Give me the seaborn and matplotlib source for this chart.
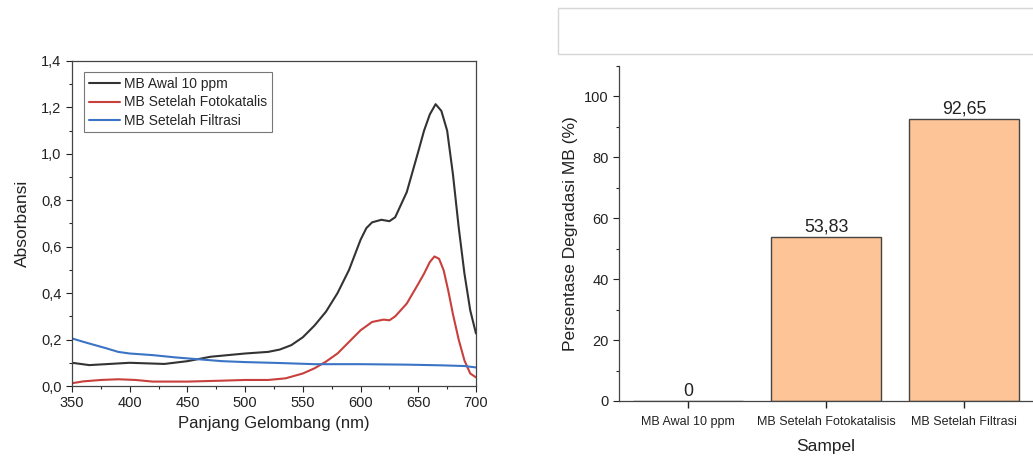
import matplotlib
matplotlib.use("Agg")
import matplotlib.pyplot as plt
import matplotlib.ticker as mticker
from matplotlib.patches import Rectangle
import numpy as np
import pandas as pd
import seaborn as sns

# UV-Vis spectra
wl_awal = [350, 365, 400, 430, 450, 470, 500, 520, 530, 540, 550, 560, 570, 580,
           590, 600, 605, 610, 618, 625, 630, 640, 650, 655, 660, 665, 670, 675,
           680, 685, 690, 695, 700]
abs_awal = [0.100, 0.090, 0.100, 0.095, 0.107, 0.126, 0.140, 0.147, 0.157, 0.176,
            0.210, 0.260, 0.320, 0.400, 0.500, 0.630, 0.680, 0.705, 0.716, 0.710,
            0.727, 0.835, 1.010, 1.100, 1.170, 1.214, 1.185, 1.100, 0.913, 0.684,
            0.484, 0.326, 0.226]

wl_foto = [350, 360, 375, 390, 405, 420, 450, 480, 500, 520, 535, 550, 560, 570,
           580, 590, 600, 610, 620, 625, 630, 640, 650, 655, 660, 664, 668, 672,
           676, 680, 685, 690, 695, 700]
abs_foto = [0.012, 0.020, 0.026, 0.029, 0.026, 0.019, 0.019, 0.023, 0.026, 0.026,
            0.033, 0.054, 0.076, 0.105, 0.140, 0.190, 0.240, 0.276, 0.286, 0.283,
            0.300, 0.355, 0.440, 0.484, 0.534, 0.558, 0.548, 0.498, 0.410, 0.310,
            0.200, 0.110, 0.054, 0.037]

wl_filt = [350, 360, 370, 380, 390, 400, 420, 440, 460, 480, 500, 530, 560, 600,
           640, 670, 690, 700]
abs_filt = [0.205, 0.190, 0.176, 0.162, 0.147, 0.140, 0.133, 0.123, 0.115, 0.107,
            0.103, 0.099, 0.094, 0.094, 0.092, 0.089, 0.086, 0.080]

series_names = ["MB Awal 10 ppm", "MB Setelah Fotokatalis", "MB Setelah Filtrasi"]
series_colors = ["#333333", "#c8403c", "#3b74c4"]

# degradation percentages
samples = ["MB Awal 10 ppm", "MB Setelah Fotokatalisis", "MB Setelah Filtrasi"]
degradasi = [0.0, 53.83, 92.65]
degradasi_labels = ["0", "53,83", "92,65"]


def comma_fmt(x, pos):
    return f"{x:.1f}".replace(".", ",")


def main():
    sns.set_style("ticks")
    plt.rcParams["font.family"] = ["Liberation Sans", "DejaVu Sans"]

    spec = pd.concat([
        pd.DataFrame({"wl": wl_awal, "A": abs_awal, "seri": series_names[0]}),
        pd.DataFrame({"wl": wl_foto, "A": abs_foto, "seri": series_names[1]}),
        pd.DataFrame({"wl": wl_filt, "A": abs_filt, "seri": series_names[2]}),
    ])

    fig = plt.figure(figsize=(10.33, 4.58), dpi=100)
    W, H = 1033, 458

    # light gray box at the top right
    fig.patches.append(Rectangle((558 / W, 1 - 54 / H), 500 / W, 46 / H,
                                 transform=fig.transFigure, fill=False,
                                 edgecolor="#d6d6d6", linewidth=1))

    ax1 = fig.add_axes([72 / W, 1 - 386 / H, 404 / W, 325 / H])
    sns.lineplot(data=spec, x="wl", y="A", hue="seri", palette=series_colors,
                 linewidth=1.5, ax=ax1, sort=False, estimator=None)
    ax1.set_xlim(350, 700)
    ax1.set_ylim(0, 1.4)
    ax1.xaxis.set_major_locator(mticker.MultipleLocator(50))
    ax1.xaxis.set_minor_locator(mticker.MultipleLocator(25))
    ax1.yaxis.set_major_locator(mticker.MultipleLocator(0.2))
    ax1.yaxis.set_minor_locator(mticker.MultipleLocator(0.1))
    ax1.yaxis.set_major_formatter(mticker.FuncFormatter(comma_fmt))
    ax1.tick_params(which="major", length=4, width=0.8, labelsize=10.5, colors="#222222")
    ax1.tick_params(which="minor", length=2.5, width=0.8)
    ax1.set_xlabel("Panjang Gelombang (nm)", fontsize=12, color="#222222")
    ax1.set_ylabel("Absorbansi", fontsize=12.5, color="#222222", labelpad=8)
    for s in ax1.spines.values():
        s.set_color("#444444")
        s.set_linewidth(0.9)
    leg = ax1.legend(loc="upper left", bbox_to_anchor=(0.03, 0.965), fontsize=10,
                     frameon=True, fancybox=False, handlelength=2.2,
                     handletextpad=0.3, labelspacing=0.3, borderpad=0.35,
                     borderaxespad=0)
    leg.get_frame().set_edgecolor("#555555")
    leg.get_frame().set_linewidth(0.8)

    ax2 = fig.add_axes([619 / W, 1 - 401 / H, (W - 619) / W, 335 / H])
    bars = pd.DataFrame({"sampel": samples, "deg": degradasi})
    sns.barplot(data=bars, x="sampel", y="deg", color="#fdc597", edgecolor="#444444",
                linewidth=1, width=0.8, saturation=1, ax=ax2)
    ax2.bar_label(ax2.containers[0], labels=degradasi_labels, padding=1, fontsize=12.8,
                  color="#222222")
    ax2.set_xlim(-0.5, 2.5)
    ax2.set_ylim(0, 110)
    ax2.yaxis.set_major_locator(mticker.MultipleLocator(20))
    ax2.yaxis.set_minor_locator(mticker.MultipleLocator(10))
    ax2.tick_params(axis="x", which="major", length=5, width=1, labelsize=9,
                    colors="#222222", pad=6)
    ax2.tick_params(axis="y", which="major", length=4, width=0.8, labelsize=10.5,
                    colors="#222222")
    ax2.tick_params(axis="y", which="minor", length=2.5, width=0.8)
    ax2.set_xlabel("Sampel", fontsize=12.5, color="#222222", labelpad=8)
    ax2.set_ylabel("Persentase Degradasi MB (%)", fontsize=12.5, color="#222222")
    sns.despine(ax=ax2)
    for s in ax2.spines.values():
        s.set_color("#444444")
        s.set_linewidth(0.9)

    fig.savefig("out.png", dpi=100)
    plt.close(fig)


if __name__ == "__main__":
    main()
